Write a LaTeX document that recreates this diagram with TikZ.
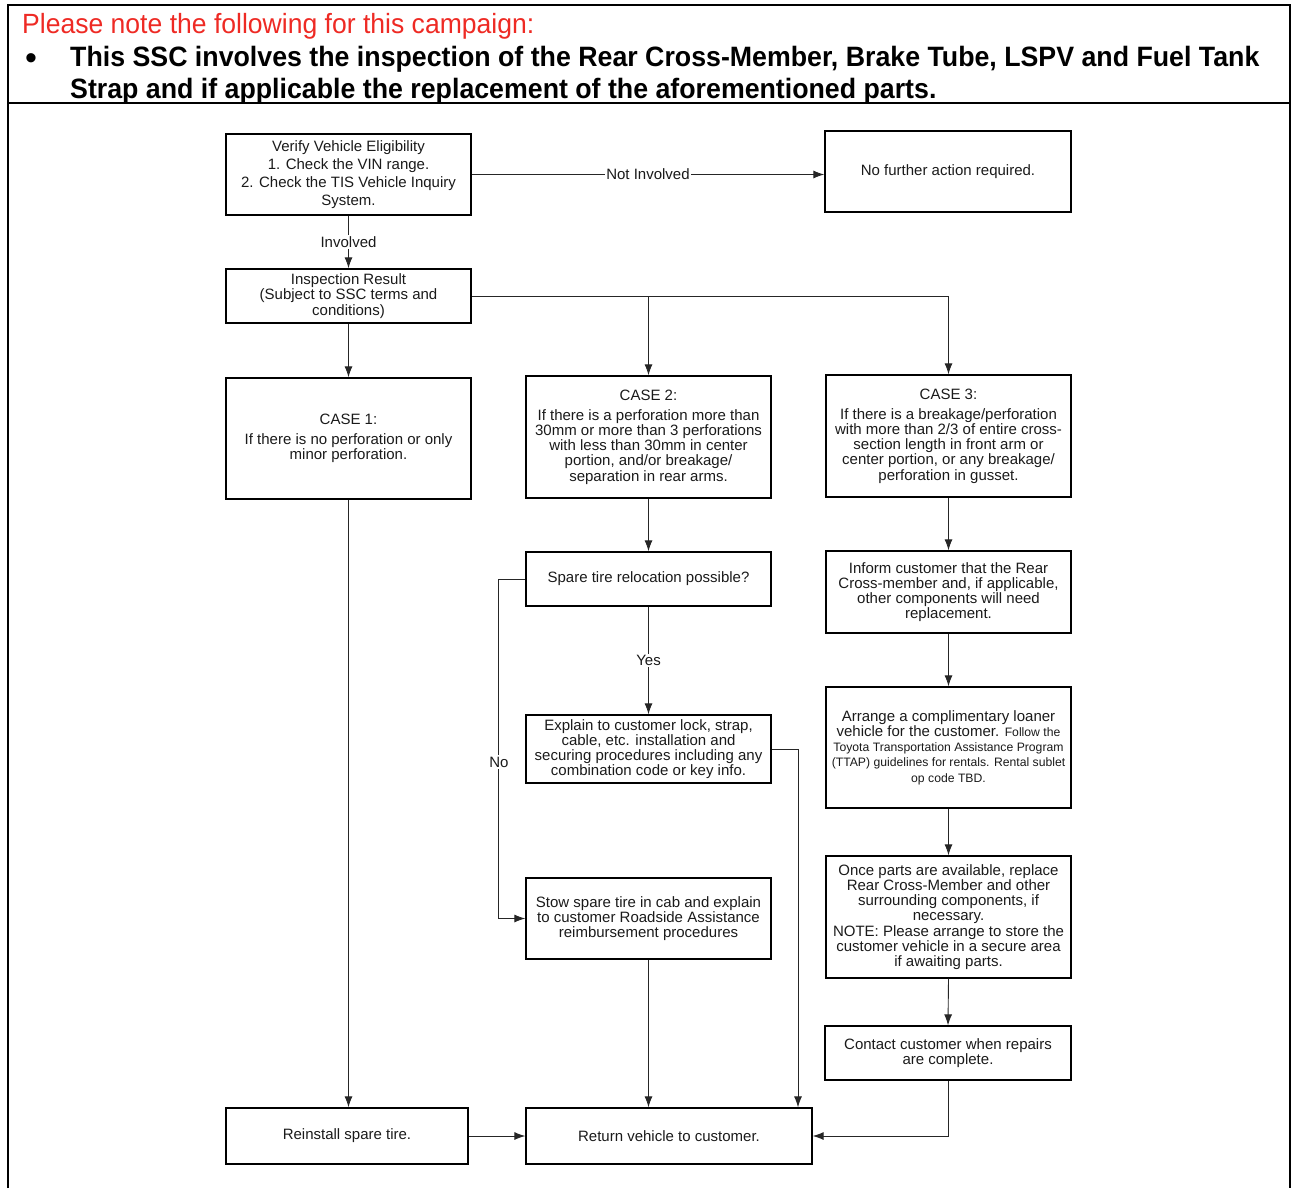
\documentclass[tikz,border=0pt]{standalone}
\usepackage{fontspec}
\setmainfont{Liberation Sans}
\newfontfamily\condfont[FakeStretch=0.955]{Liberation Sans}
\usetikzlibrary{arrows.meta}
\definecolor{txt}{HTML}{1A1A1A}
\definecolor{notered}{HTML}{EE2A24}
\begin{document}
\begin{tikzpicture}[x=1pt,y=-1pt,
  box/.style={draw=black, line width=1.3pt, align=center, inner sep=0pt, text=txt,
    font=\fontsize{15}{15.2}\selectfont},
  lnk/.style={line width=0.9pt, draw=black!85},
  conn/.style={lnk, -{Latex[length=11pt,width=8pt]}},
  lbl/.style={fill=white, inner sep=1.5pt, text=txt, font=\fontsize{15}{15.2}\selectfont}]
\useasboundingbox (0,0) rectangle (1295,1188);
% frame
\draw[line width=1.2pt] (8,1188) -- (8,5) -- (1290,5) -- (1290,1188);
\draw[line width=1.2pt] (8,103) -- (1290,103);
% header
\node[anchor=base west, inner sep=0pt, text=notered, font=\condfont\fontsize{27.8}{30}\selectfont] (hdr) at (22,34) {Please note the following for this campaign:};
\node[anchor=base, inner sep=0pt, font=\fontsize{34}{34}\selectfont] (bul) at (31,70) {\textbullet};
\node[anchor=base west, inner sep=0pt, font=\condfont\bfseries\fontsize{28}{30}\selectfont] (t1) at (70,67) {This SSC involves the inspection of the Rear Cross-Member, Brake Tube, LSPV and Fuel Tank};
\node[anchor=base west, inner sep=0pt, font=\condfont\bfseries\fontsize{28}{30}\selectfont] (t2) at (70,99) {Strap and if applicable the replacement of the aforementioned parts.};
% boxes
\node[box, minimum width=245pt, minimum height=81pt, font=\fontsize{15}{18}\selectfont] (verify) at (348.5,174.5) {Verify Vehicle Eligibility\\1. Check the VIN range.\\2. Check the TIS Vehicle Inquiry\\System.};
\node[box, minimum width=246pt, minimum height=81pt] (nofurther) at (948,171.5) {No further action required.};
\node[box, minimum width=245pt, minimum height=54pt] (insp) at (348.5,296) {Inspection Result\\(Subject to SSC terms and\\conditions)};
\node[box, minimum width=245pt, minimum height=121pt] (case1) at (348.5,438.5) {CASE 1:\\[5pt]If there is no perforation or only\\minor perforation.};
\node[box, minimum width=245pt, minimum height=122pt] (case2) at (648.5,437) {CASE 2:\\[5pt]If there is a perforation more than\\30mm or more than 3 perforations\\with less than 30mm in center\\portion, and/or breakage/\\separation in rear arms.};
\node[box, minimum width=245pt, minimum height=122pt] (case3) at (948.5,436) {CASE 3:\\[5pt]If there is a breakage/perforation\\with more than 2/3 of entire cross-\\section length in front arm or\\center portion, or any breakage/\\perforation in gusset.};
\node[box, minimum width=245pt, minimum height=54pt] (spare) at (648.5,579) {Spare tire relocation possible?};
\node[box, minimum width=245pt, minimum height=68pt] (explain) at (648.5,749) {Explain to customer lock, strap,\\cable, etc. installation and\\securing procedures including any\\combination code or key info.};
\node[box, minimum width=245pt, minimum height=81pt] (stow) at (648.5,918.5) {Stow spare tire in cab and explain\\to customer Roadside Assistance\\reimbursement procedures};
\node[box, minimum width=245pt, minimum height=82pt] (inform) at (948.5,592) {Inform customer that the Rear\\Cross-member and, if applicable,\\other components will need\\replacement.};
\node[box, minimum width=245pt, minimum height=121pt] (arrange) at (948.5,747.5) {Arrange a complimentary loaner\\vehicle for the customer. {\fontsize{12.2}{15.2}\selectfont Follow the}\\{\fontsize{12.2}{15.2}\selectfont Toyota Transportation Assistance Program}\\{\fontsize{12.2}{15.2}\selectfont (TTAP) guidelines for rentals. Rental sublet}\\{\fontsize{12.2}{15.2}\selectfont op code TBD.}};
\node[box, minimum width=245pt, minimum height=122pt] (once) at (948.5,917) {Once parts are available, replace\\Rear Cross-Member and other\\surrounding components, if\\necessary.\\NOTE: Please arrange to store the\\customer vehicle in a secure area\\if awaiting parts.};
\node[box, minimum width=246pt, minimum height=54pt] (contact) at (948,1053) {Contact customer when repairs\\are complete.};
\node[box, minimum width=242pt, minimum height=56pt] (reinstall) at (347,1136) {Reinstall spare tire.};
\node[box, minimum width=286pt, minimum height=56pt] (return) at (669,1136) {Return vehicle to customer.};
% connectors
\draw[conn] (verify.east) -- (verify.east -| nofurther.west) node[lbl, pos=0.5] (lni) {Not Involved};
\draw[conn] (verify.south) -- (insp.north) node[lbl, pos=0.5] (linv) {Involved};
\draw[conn] (insp.south) -- (case1.north);
\draw[lnk] (insp.east) -- (insp.east -| case3.north);
\draw[conn] (insp.east -| case2.north) -- (case2.north);
\draw[conn] (insp.east -| case3.north) -- (case3.north);
\draw[conn] (case1.south) -- (case1.south |- reinstall.north);
\draw[conn] (case2.south) -- (spare.north);
\draw[conn] (spare.south) -- (explain.north) node[lbl, pos=0.5] (lyes) {Yes};
\coordinate (nocorner) at ([xshift=-27pt]spare.west);
\draw[conn] (spare.west) -- (nocorner) |- (stow.west);
\node[lbl] (lno) at (499,762) {No};
\coordinate (expin) at ([xshift=129pt]return.north);
\draw[conn] (explain.east) -| (expin);
\draw[conn] (stow.south) -- (stow.south |- return.north);
\draw[conn] (reinstall.east) -- (return.west);
\draw[conn] (case3.south) -- (inform.north);
\draw[conn] (inform.south) -- (arrange.north);
\draw[conn] (arrange.south) -- (once.north);
\draw[conn] (once.south) -- (contact.north);
\draw[conn] (contact.south) |- (return.east);
\end{tikzpicture}
\end{document}
